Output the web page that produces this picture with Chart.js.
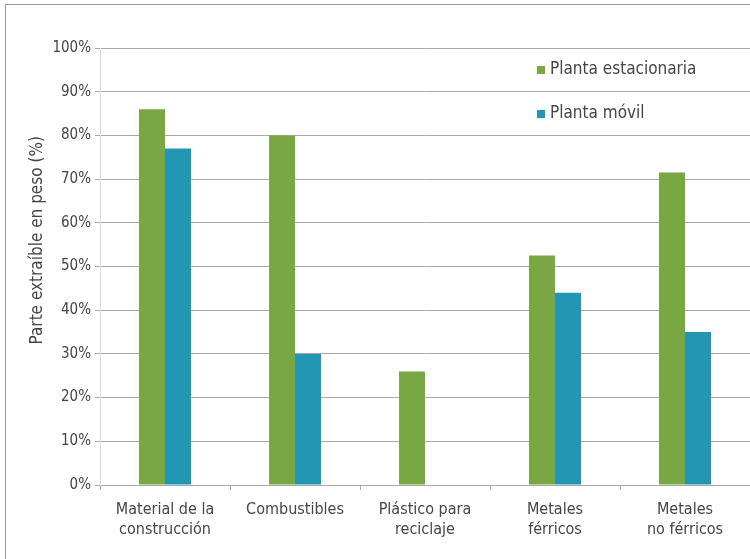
<!DOCTYPE html>
<html>
<head>
<meta charset="utf-8">
<script src="https://cdn.jsdelivr.net/npm/chart.js@4/dist/chart.umd.min.js"></script>
<style>
  html, body { margin: 0; padding: 0; background: #fff; overflow: hidden; }
  #wrap { position: relative; width: 750px; height: 559px; overflow: hidden; }
  #frame { position: absolute; left: 5px; top: 4px; width: 745px; height: 555px;
           border-top: 1px solid #999; border-left: 1px solid #999; pointer-events: none; }
  canvas { position: absolute; left: 0; top: 0; }
</style>
</head>
<body>
<div id="wrap">
  <canvas id="chart" width="750" height="559"></canvas>
  <div id="frame"></div>
</div>
<script>
// ===========================================
// Data
// ===========================================
var categories = [
	["Material de la", "construcción"],
	"Combustibles",
	["Plástico para", "reciclaje"],
	["Metales", "férricos"],
	["Metales", "no férricos"]
];
var estacionaria = [86, 80, 26, 52.5, 71.5];
var movil = [77, 30, 0, 44, 35];
var seriesLabels = ["Planta estacionaria", "Planta móvil"];
var yTitle = "Parte extraíble en peso (%)";

// ===========================================
// Style
// ===========================================
var green = "#78a743";
var blue = "#2396b4";
var textColor = "#454545";
var gridColor = "#a8a8a8";
var fontFamily = "'Liberation Sans Narrow', 'DejaVu Sans Condensed', 'Roboto', sans-serif";

// legend + rotated axis title drawn inside the chart
var extrasPlugin = {
	id: 'extras',
	afterDraw: function(chart) {
		var ctx = chart.ctx;
		var y = chart.scales.y;
		ctx.save();
		// axis title
		ctx.font = "17px " + fontFamily;
		ctx.fillStyle = textColor;
		ctx.textAlign = "center";
		ctx.textBaseline = "middle";
		ctx.translate(38, y.getPixelForValue(56));
		ctx.rotate(-Math.PI / 2);
		ctx.fillText(yTitle, 0, 0);
		ctx.restore();

		// legend
		ctx.save();
		ctx.font = "17px " + fontFamily;
		ctx.textBaseline = "middle";
		ctx.textAlign = "left";
		var rows = [95, 85];
		chart.data.datasets.forEach(function(ds, i) {
			var py = Math.round(y.getPixelForValue(rows[i]));
			ctx.fillStyle = ds.backgroundColor;
			ctx.fillRect(537, py - 4, 8, 8);
			ctx.fillStyle = textColor;
			ctx.fillText(ds.label, 550, py);
		});
		ctx.restore();
	}
};

new Chart(document.getElementById("chart"), {
	type: 'bar',
	data: {
		labels: categories,
		datasets: [
			{ label: seriesLabels[0], data: estacionaria, backgroundColor: green,
			  categoryPercentage: 0.4, barPercentage: 1.0 },
			{ label: seriesLabels[1], data: movil, backgroundColor: blue,
			  categoryPercentage: 0.4, barPercentage: 1.0 }
		]
	},
	options: {
		responsive: false,
		animation: false,
		layout: { padding: { top: 48, right: 0, left: 0, bottom: 0 } },
		plugins: {
			legend: { display: false },
			tooltip: { enabled: false }
		},
		scales: {
			x: {
				afterFit: function(s) { s.height = 74; },
				grid: { drawOnChartArea: false, drawTicks: true, tickLength: 5, color: gridColor, offset: true },
				border: { color: gridColor },
				ticks: { color: textColor, font: { family: fontFamily, size: 16, lineHeight: 1.3 }, padding: 9, maxRotation: 0, autoSkip: false }
			},
			y: {
				min: 0,
				max: 100,
				afterFit: function(s) { s.width = 100; },
				grid: { color: gridColor, tickLength: 5, lineWidth: 1 },
				border: { color: "#dddddd" },
				ticks: { stepSize: 10, color: textColor, padding: 4,
					font: { family: fontFamily, size: 15 },
					callback: function(v) { return v + "%"; } }
			}
		}
	},
	plugins: [extrasPlugin]
});
</script>
</body>
</html>
